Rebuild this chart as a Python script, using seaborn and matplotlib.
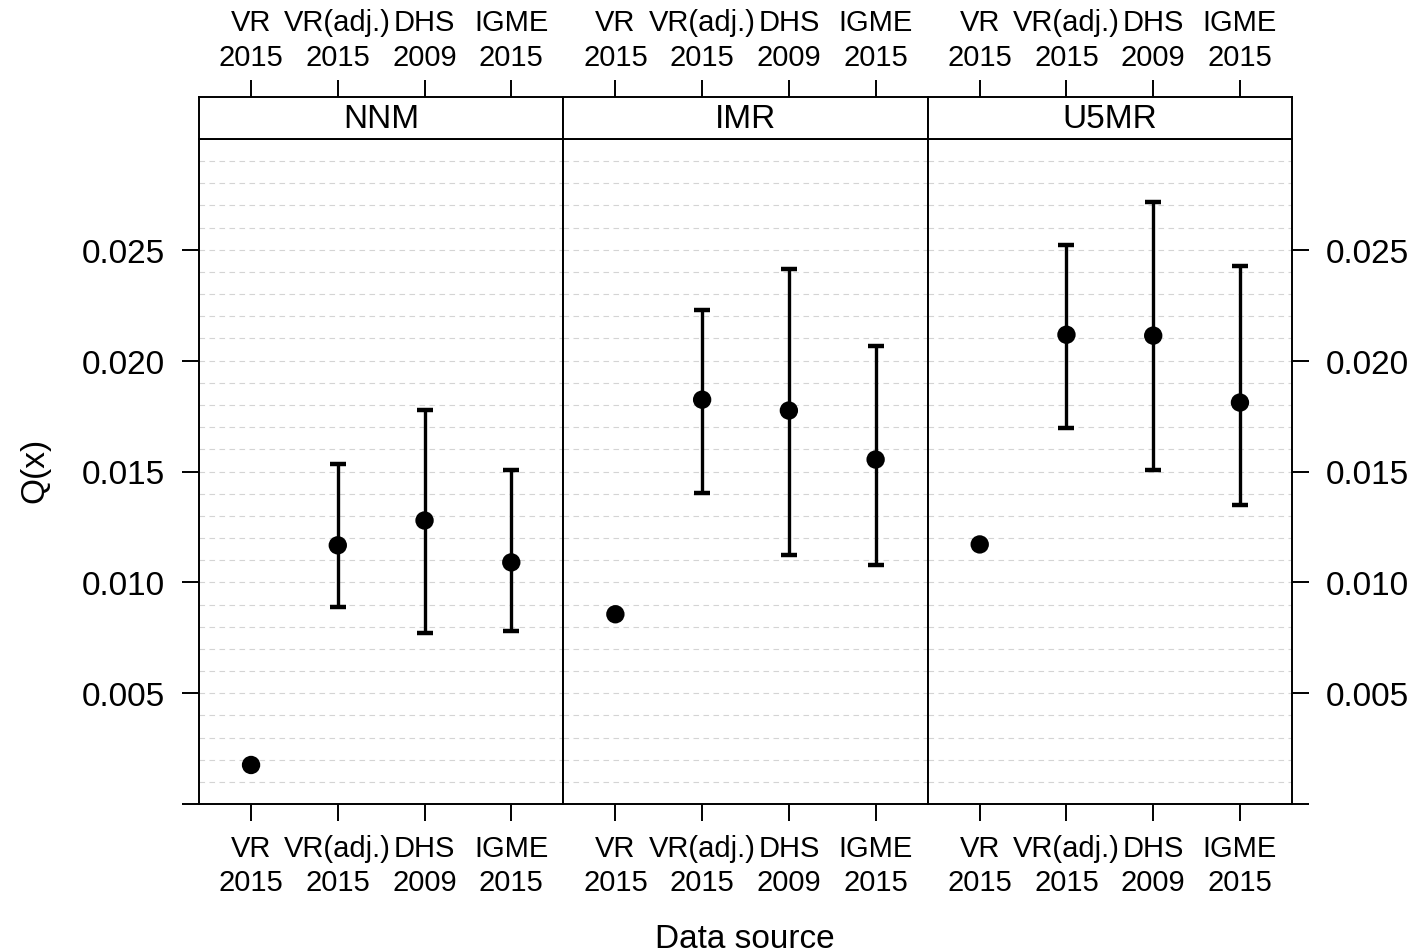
import numpy as np
import pandas as pd
import matplotlib
matplotlib.use("Agg")
import matplotlib.pyplot as plt
import seaborn as sns

# Panels and data sources
measures = ["NNM", "IMR", "U5MR"]
sources = ["VR\n2015", "VR(adj.)\n2015", "DHS\n2009", "IGME\n2015"]

# Point estimates and 95% intervals (VR has no interval)
nnm_est = [0.00176, 0.01167, 0.01279, 0.01090]
nnm_lo = [np.nan, 0.00887, 0.00770, 0.00779]
nnm_hi = [np.nan, 0.01532, 0.01779, 0.01509]

imr_est = [0.00856, 0.01824, 0.01775, 0.01554]
imr_lo = [np.nan, 0.01405, 0.01122, 0.01077]
imr_hi = [np.nan, 0.02230, 0.02414, 0.02068]

u5mr_est = [0.01171, 0.02117, 0.02113, 0.01811]
u5mr_lo = [np.nan, 0.01698, 0.01505, 0.01351]
u5mr_hi = [np.nan, 0.02523, 0.02716, 0.02428]

y_ticks = [0.0, 0.005, 0.010, 0.015, 0.020, 0.025]
y_tick_labels = ["", "0.005", "0.010", "0.015", "0.020", "0.025"]

rows = []
for m, est, lo, hi in zip(measures,
                          [nnm_est, imr_est, u5mr_est],
                          [nnm_lo, imr_lo, u5mr_lo],
                          [nnm_hi, imr_hi, u5mr_hi]):
    for i, s in enumerate(sources):
        rows.append({"measure": m, "source": s, "pos": i + 1,
                     "est": est[i], "lo": lo[i], "hi": hi[i]})
df = pd.DataFrame(rows)

sns.set_theme(style="white")
plt.rcParams["font.family"] = ["Liberation Sans", "DejaVu Sans"]
for key in ["text.color", "axes.labelcolor", "xtick.color", "ytick.color"]:
    plt.rcParams[key] = "black"

W, H = 1417, 953
g = sns.FacetGrid(df, col="measure", col_order=measures, sharex=True,
                  sharey=True, height=5, aspect=0.8)


def draw_intervals(data, **kws):
    ax = plt.gca()
    ok = data.dropna(subset=["lo", "hi"])
    ax.errorbar(ok["pos"], ok["est"],
                yerr=[ok["est"] - ok["lo"], ok["hi"] - ok["est"]],
                fmt="none", ecolor="black", elinewidth=2.4,
                capsize=6, capthick=3.2, zorder=2)


g.map_dataframe(draw_intervals)
g.map_dataframe(sns.scatterplot, x="pos", y="est", color="black", s=175,
                edgecolor="none", zorder=3)
g.set_titles("")
g.set_axis_labels("", "")

fig = g.figure
fig.set_size_inches(W / 100, H / 100)
fig.set_dpi(100)

left_px, right_px = 199, 1292
bottom_px, top_px = 805, 140
strip_top_px = 98
pw = (right_px - left_px) / 3

tick_len = 12.5
xlab_size = 21
for k, ax in enumerate(g.axes.flat):
    x0 = left_px + k * pw
    ax.set_position([x0 / W, 1 - bottom_px / H, pw / W,
                     (bottom_px - top_px) / H])
    ax.set_xlim(0.4, 4.6)
    ax.set_ylim(0, 0.030)
    ax.set_xticks(range(1, len(sources) + 1))
    ax.set_xticklabels(sources, linespacing=1.3)
    ax.set_yticks(y_ticks)
    ax.set_yticks(np.arange(0.001, 0.0295, 0.001), minor=True)
    ax.grid(False)
    ax.grid(True, which="both", axis="y", color="#d4d4d4", lw=0.8,
            ls=(0, (5, 4)), zorder=0)
    ax.set_axisbelow(True)
    for sp in ax.spines.values():
        sp.set_visible(True)
        sp.set_color("black")
        sp.set_linewidth(1.4)
    ax.tick_params(axis="x", which="major", direction="out", length=tick_len,
                   width=1.4, color="black", labelcolor="black",
                   labelsize=xlab_size, pad=9,
                   bottom=True, labelbottom=True)
    ax.tick_params(axis="y", which="minor", length=0)
    ax.tick_params(axis="y", which="major", direction="out", length=tick_len,
                   width=1.4, color="black", labelcolor="black",
                   labelsize=24, pad=12,
                   left=(k == 0), labelleft=(k == 0),
                   right=(k == 2), labelright=(k == 2))
    ax.set_yticklabels(y_tick_labels)
    ax.set_xlabel("")
    ax.set_ylabel("")

    # strip with the panel name, carrying the top axis ticks
    sax = fig.add_axes([x0 / W, 1 - top_px / H, pw / W,
                        (top_px - strip_top_px) / H])
    sax.set_facecolor("white")
    sax.set_xlim(0.4, 4.6)
    sax.set_ylim(0, 1)
    sax.set_yticks([])
    sax.set_xticks(range(1, len(sources) + 1))
    sax.set_xticklabels(sources, linespacing=1.3)
    sax.tick_params(axis="x", direction="out", length=tick_len, width=1.4,
                    color="black", labelcolor="black", labelsize=xlab_size,
                    pad=6.5, top=True, labeltop=True, bottom=False,
                    labelbottom=False)
    for sp in sax.spines.values():
        sp.set_visible(True)
        sp.set_color("black")
        sp.set_linewidth(1.4)
    sax.text(0.5, 0.5, measures[k], transform=sax.transAxes, ha="center",
             va="center", fontsize=24, color="black")

fig.text(745 / W, 1 - 940 / H, "Data source", ha="center", va="center",
         fontsize=24, color="black")
fig.text(35 / W, 1 - 470 / H, "Q(x)", ha="center", va="center",
         rotation=90, fontsize=24, color="black")

fig.savefig("out.png", dpi=100, facecolor="white")
